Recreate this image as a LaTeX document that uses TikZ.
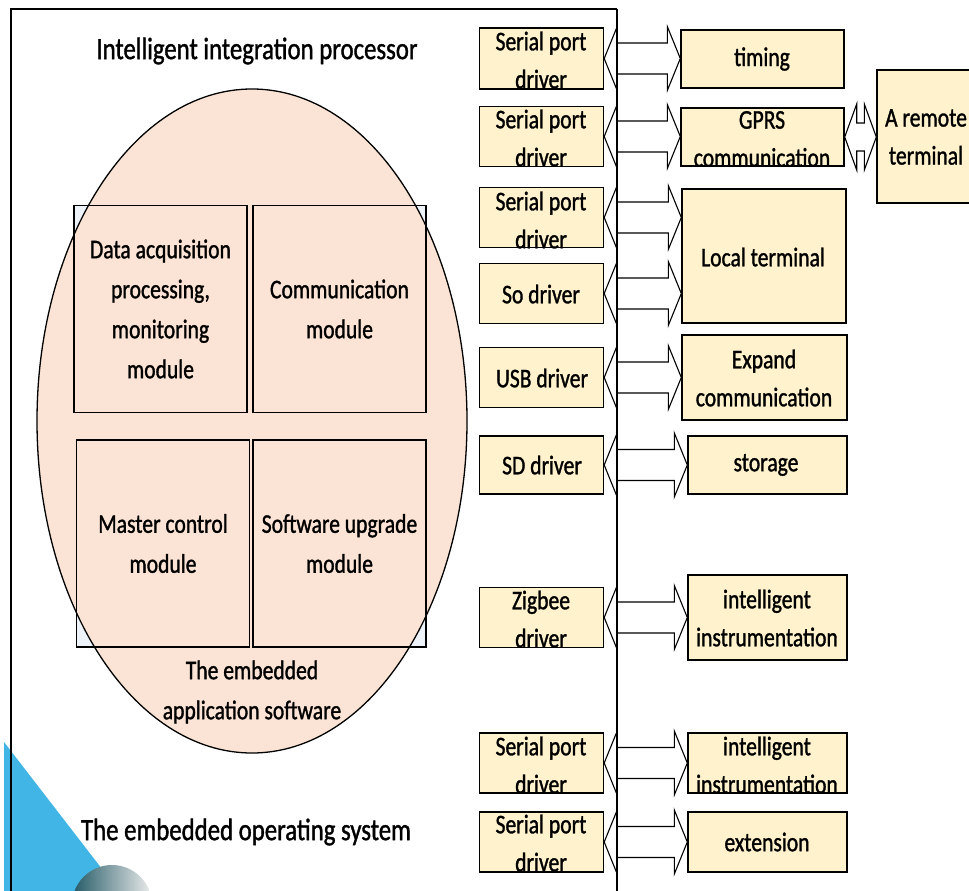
\documentclass[tikz,border=0pt]{standalone}
\usepackage{fontspec}
\setmainfont{Carlito}[FakeStretch=0.8,FakeBold=1.2]
\usetikzlibrary{calc,shapes.geometric}
\definecolor{peach}{HTML}{FBE4D5}
\definecolor{cream}{HTML}{FFF2CC}
\definecolor{skyb}{HTML}{41B6E6}
\definecolor{darkteal}{HTML}{245A66}
\definecolor{glow}{HTML}{EEF3FA}
\newcommand\dblarr[5]{%
  \path[arr] let \p1=(#1.east), \p2=(#2.west) in
    (\x1,\y1) -- (\x1+#5pt,\y1+#3pt) -- (\x1+#5pt,\y1+#4pt) -- (\x2-#5pt,\y1+#4pt)
    -- (\x2-#5pt,\y1+#3pt) -- (\x2,\y1) -- (\x2-#5pt,\y1-#3pt) -- (\x2-#5pt,\y1-#4pt)
    -- (\x1+#5pt,\y1-#4pt) -- (\x1+#5pt,\y1-#3pt) -- cycle;}
\begin{document}
\begin{tikzpicture}[x=1pt,y=-1pt,
  every node/.style={font=\fontsize{27}{38}\selectfont},
  drv/.style={draw, fill=cream, line width=1.4pt, minimum width=124pt, minimum height=60pt, inner sep=0pt},
  tgt/.style={draw, fill=cream, line width=1.4pt, inner sep=0pt},
  mod/.style={draw, line width=1.3pt, inner sep=0pt, minimum width=173pt, minimum height=207pt},
  modfill/.style={fill=glow, draw=none, inner sep=0pt, minimum width=173pt, minimum height=207pt},
  txt/.style={align=center, inner sep=0pt},
  mtxt/.style={align=center, inner sep=0pt, font=\fontsize{27}{40}\selectfont},
  big/.style={inner sep=0pt, font=\fontsize{31}{36}\selectfont},
  arr/.style={draw, fill=white, line width=1.1pt},
  frame/.style={draw, line width=1.4pt},
]
\useasboundingbox (0,0) rectangle (969,891);
\fill[white] (0,0) rectangle (969,891);

% decoration bottom-left
\fill[skyb] (4,742) -- (4,891) -- (119,891) -- cycle;
\shade[left color=darkteal, right color=white!85!gray] (112,905) circle (40pt);

% module backgrounds (outside the ellipse)
\node[modfill] (m1b) at (160.5,309) {};
\node[modfill] (m2b) at (339.5,309) {};
\node[modfill] (m3b) at (163,543.5) {};
\node[modfill] (m4b) at (339.5,543.5) {};

% ellipse
\node[ellipse, draw, fill=peach, line width=1.3pt, minimum width=430pt, minimum height=664pt, inner sep=0pt] (app) at (252,421) {};

% modules
\node[mod] (m1) at (160.5,309) {};
\node[mod] (m2) at (339.5,309) {};
\node[mod] (m3) at (163,543.5) {};
\node[mod] (m4) at (339.5,543.5) {};
\node[mtxt] (m1t) at (m1) {Data acquisition\\processing,\\monitoring\\module};
\node[mtxt] (m2t) at (m2) {Communication\\module};
\node[mtxt] (m3t) at (m3) {Master control\\module};
\node[mtxt] (m4t) at (m4) {Software upgrade\\module};
\node[mtxt] (appt) at (252,692) {The embedded\\application software};

% outer frame
\draw[frame] (11,891) -- (11,9) -- (617,9);

% titles
\node[big] (title) at (257,51) {Intelligent integration processor};
\node[big] (os) at (246,832) {The embedded operating system};

% drivers
\node[drv, minimum height=61pt] (d1) at (541.5,58.5) {};
\node[drv] (d2) at (541.5,136.5) {};
\node[drv] (d3) at (541.5,217.5) {};
\node[drv] (d4) at (541.5,293.5) {};
\node[drv] (d5) at (541.5,377.5) {};
\node[drv, minimum height=58pt] (d6) at (541.5,465) {};
\node[drv] (d7) at (541.5,617.5) {};
\node[drv] (d8) at (541.5,763) {};
\node[drv] (d9) at (541.5,842) {};
\node[txt] (d1t) at (541,60) {Serial port\\driver};
\node[txt] (d2t) at (541,138) {Serial port\\driver};
\node[txt] (d3t) at (541,220) {Serial port\\driver};
\node[txt] (d4t) at (541,294) {So driver};
\node[txt] (d5t) at (542,378) {USB driver};
\node[txt] (d6t) at (542,465) {SD driver};
\node[txt] (d7t) at (541,619) {Zigbee\\driver};
\node[txt] (d8t) at (541,765) {Serial port\\driver};
\node[txt] (d9t) at (541,843) {Serial port\\driver};

% targets
\node[tgt, minimum width=163pt, minimum height=58pt] (t1) at (762.5,59) {};
\node[tgt, minimum width=163pt, minimum height=58pt] (t2) at (762.5,137) {};
\node[tgt, minimum width=164pt, minimum height=134pt] (t3) at (764,256) {};
\node[tgt, minimum width=165pt, minimum height=85pt] (t4) at (764.5,377.5) {};
\node[tgt, minimum width=159pt, minimum height=58pt] (t5) at (767.5,465) {};
\node[tgt, minimum width=159pt, minimum height=85pt] (t6) at (767.5,617.5) {};
\node[tgt, minimum width=159pt, minimum height=60pt] (t7) at (767.5,763) {};
\node[tgt, minimum width=159pt, minimum height=60pt] (t8) at (767.5,842) {};
\node[tgt, minimum width=98pt, minimum height=133pt] (rem) at (926,136.5) {};
\node[txt] (t1t) at (762,59) {timing};
\node[txt] (t2t) at (762,139) {GPRS\\communication};
\node[txt] (t3t) at (763,257) {Local terminal};
\node[txt] (t4t) at (764,378) {Expand\\communication};
\node[txt] (t5t) at (766,465) {storage};
\node[txt] (t6t) at (767,618) {intelligent\\instrumentation};
\node[txt] (t7t) at (767,765) {intelligent\\instrumentation};
\node[txt] (t8t) at (767,842) {extension};
\node[txt] (remt) at (926,137) {A remote\\terminal};

% double arrows
\dblarr{d1}{t1}{32}{15.5}{13}
\dblarr{d2}{t2}{32}{15.5}{13}
\dblarr{d3}{t3}{32}{15.5}{13}
\dblarr{d4}{t3}{32}{15.5}{13}
\dblarr{d5}{t4}{32}{15.5}{13}
\dblarr{d6}{t5}{32}{15.5}{13}
\dblarr{d7}{t6}{32}{15.5}{13}
\dblarr{d8}{t7}{32}{15.5}{13}
\dblarr{d9}{t8}{32}{15.5}{13}
\dblarr{t2}{rem}{33}{14}{12}

% bus line
\draw[frame] (617,9) -- (617,891);
\end{tikzpicture}
\end{document}
